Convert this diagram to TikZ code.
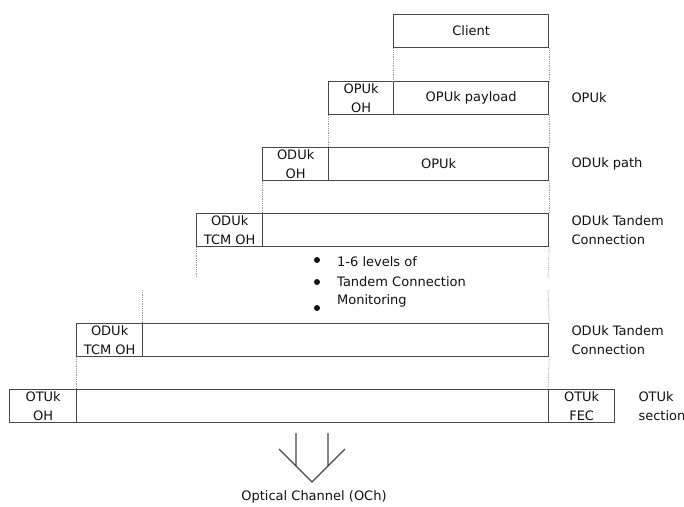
\documentclass[tikz,border=0pt]{standalone}
\usepackage{fontspec}
\setmainfont{DejaVu Sans}
\usetikzlibrary{positioning}
\definecolor{framegray}{HTML}{474747}
\definecolor{guidegray}{HTML}{9C9C9C}
\definecolor{inkgray}{HTML}{111111}

\begin{document}
\begin{tikzpicture}[x=1pt, y=-1pt, >=stealth,
    every node/.style={font=\fontsize{13}{19}\selectfont, text=inkgray},
    box/.style={draw=framegray, line width=1.3pt, rectangle, inner sep=0pt,
        anchor=north west, minimum height=33pt, align=center},
    guide/.style={draw=guidegray, line width=0.8pt, densely dotted},
    layertext/.style={anchor=west, align=left, inner sep=0pt},
    bultext/.style={anchor=base west, inner sep=0pt},
    dot/.style={circle, fill=inkgray, inner sep=0pt, minimum size=6pt}]

    \useasboundingbox (0,0) rectangle (684,506);

                % boxes
                \foreach \n/\x/\y/\w/\t in {client/393/14/155/Client,
                    opuoh/328/81/65/{OPUk\\OH}, opupay/393/81/155/OPUk payload,
                    oduoh/262/147/66/{ODUk\\OH}, opuk/328/147/220/OPUk,
                    tcmoha/196/213/66/{ODUk\\TCM OH}, tcma/262/213/286/{},
                    tcmohb/76/323/66/{ODUk\\TCM OH}, tcmb/142/323/406/{},
                    otuoh/9/389/67/{OTUk\\OH}, otuk/76/389/472/{},
                    fec/548/389/66/{OTUk\\FEC}}
                    \node [box, minimum width=\w] (\n) at (\x,\y) {\t};

                % free ends of the guides
                \coordinate (gapl) at (196,277);
                \coordinate (gapr) at (548,278);
                \coordinate (resl) at (142,290);
                \coordinate (resr) at (548,290);

                % dotted guides
                \foreach \a/\b in {client.south west/opupay.north west,
                    client.south east/opupay.north east,
                    opuoh.south west/opuk.north west,
                    opupay.south east/opuk.north east,
                    oduoh.south west/tcma.north west,
                    opuk.south east/tcma.north east,
                    tcmoha.south west/gapl, tcma.south east/gapr,
                    resl/tcmb.north west, resr/tcmb.north east,
                    tcmohb.south west/otuk.north west,
                    tcmb.south east/fec.north west}
                    \draw [guide] (\a) -- (\b);

                % layer names
                \node [layertext, right=22pt of opupay] (lopu) {OPUk};
                \node [layertext, right=22pt of opuk] (lodu) {ODUk path};
                \node [layertext, right=22pt of tcma] (ltcma) {ODUk Tandem\\Connection};
                \node [layertext, right=22pt of tcmb] (ltcmb) {ODUk Tandem\\Connection};
                \node [layertext, right=23pt of fec] (lotu) {OTUk\\section};

                % tandem levels
                \foreach \y [count=\i] in {260,282,308}
                    \node [dot] (bul-\i) at (317,\y) {};
                \foreach \t/\y [count=\i] in {1-6 levels of/266.5,
                    Tandem Connection/286.5, Monitoring/304.5}
                    \node [bultext] (lvl-\i) at (337,\y) {\t};

                % arrow into the optical channel
                \coordinate (tip) at (312,482);
                \draw [framegray, line width=1.3pt] (279,449) -- (tip) -- (345,449)
                    (296,433) -- (296,466) (328,433) -- (328,466);
                \node (och) at (314,497) {Optical Channel (OCh)};

\end{tikzpicture}
\end{document}
